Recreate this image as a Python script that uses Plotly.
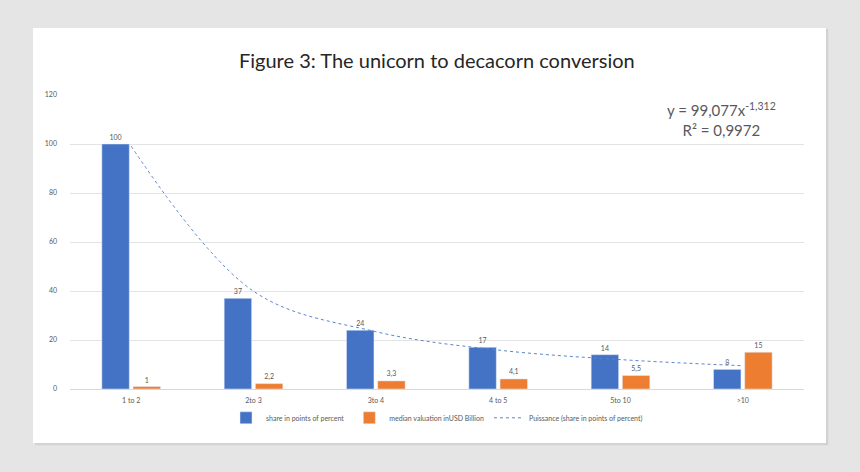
import plotly.graph_objects as go

# categories and values
classes = ["1 to 2", "2to 3", "3to 4", "4 to 5", "5to 10", ">10"]
share = [100, 37, 24, 17, 14, 8]
valuation = [1, 2.2, 3.3, 4.1, 5.5, 15]
# power trendline (Puissance) at each category
trend = [99.1, 39.9, 23.4, 15.9, 12.0, 9.5]

blue = "#4472C4"
orange = "#ED7D31"
grey_txt = "#595959"


def lbl(v):
    return str(v).replace(".", ",")


fig = go.Figure()
fig.add_trace(go.Bar(x=classes, y=share, name="share in points of percent", marker_color=blue,
                     text=[lbl(v) for v in share], textposition="outside",
                     textfont=dict(size=7, color=grey_txt), cliponaxis=False))
fig.add_trace(go.Bar(x=classes, y=valuation, name="median valuation inUSD Billion", marker_color=orange,
                     text=[lbl(v) for v in valuation], textposition="outside",
                     textfont=dict(size=7, color=grey_txt), cliponaxis=False))
fig.add_trace(go.Scatter(x=classes, y=trend, mode="lines", name="Puissance (share in points of percent)",
                         line=dict(color="#5b84d0", width=1, dash="dot", shape="spline")))

# white card with a soft shadow on the grey page
fig.add_shape(type="rect", xref="paper", yref="paper", x0=-0.0476, x1=1.033, y0=-0.191, y1=1.225,
              fillcolor="#d2d2d2", line_width=0, layer="below")
fig.add_shape(type="rect", xref="paper", yref="paper", x0=-0.0504, x1=1.030, y0=-0.184, y1=1.228,
              fillcolor="white", line_width=0, layer="below")

fig.add_annotation(xref="paper", yref="paper", x=0.5, y=1.12, xanchor="center", yanchor="middle",
                   text="Figure 3: The unicorn to decacorn conversion", showarrow=False,
                   font=dict(family="Lato", size=20, color="#262626"))
fig.add_annotation(xref="paper", yref="paper", x=0.888, y=0.915, xanchor="center", yanchor="middle",
                   text="y = 99,077x<sup>-1,312</sup><br>R² = 0,9972", showarrow=False, align="center",
                   font=dict(family="Lato", size=15, color=grey_txt))

fig.update_layout(
    width=860, height=472,
    margin=dict(l=70, r=56, t=95, b=83),
    paper_bgcolor="#e5e5e5",
    plot_bgcolor="rgba(0,0,0,0)",
    font=dict(family="Lato", size=7, color=grey_txt),
    barmode="group", bargap=0.49, bargroupgap=0.12,
    showlegend=True,
    legend=dict(orientation="h", x=0.5, xanchor="center", y=-0.098, yanchor="middle", itemwidth=30,
                font=dict(size=7, color=grey_txt), bgcolor="rgba(0,0,0,0)"),
    xaxis=dict(showline=True, linecolor="#d9d9d9", linewidth=1, ticks="", tickfont=dict(size=7, color=grey_txt),
               ticklabelstandoff=5),
    yaxis=dict(range=[0, 120], dtick=20, showgrid=True, gridcolor="#e3e3e3", gridwidth=1,
               zeroline=False, showline=False, ticks="", tickfont=dict(size=7, color=grey_txt),
               ticklabelstandoff=12),
)

fig.write_html("out.html", config={"displayModeBar": False},
               post_script="document.body.style.margin='0';document.body.style.background='#e5e5e5';")
